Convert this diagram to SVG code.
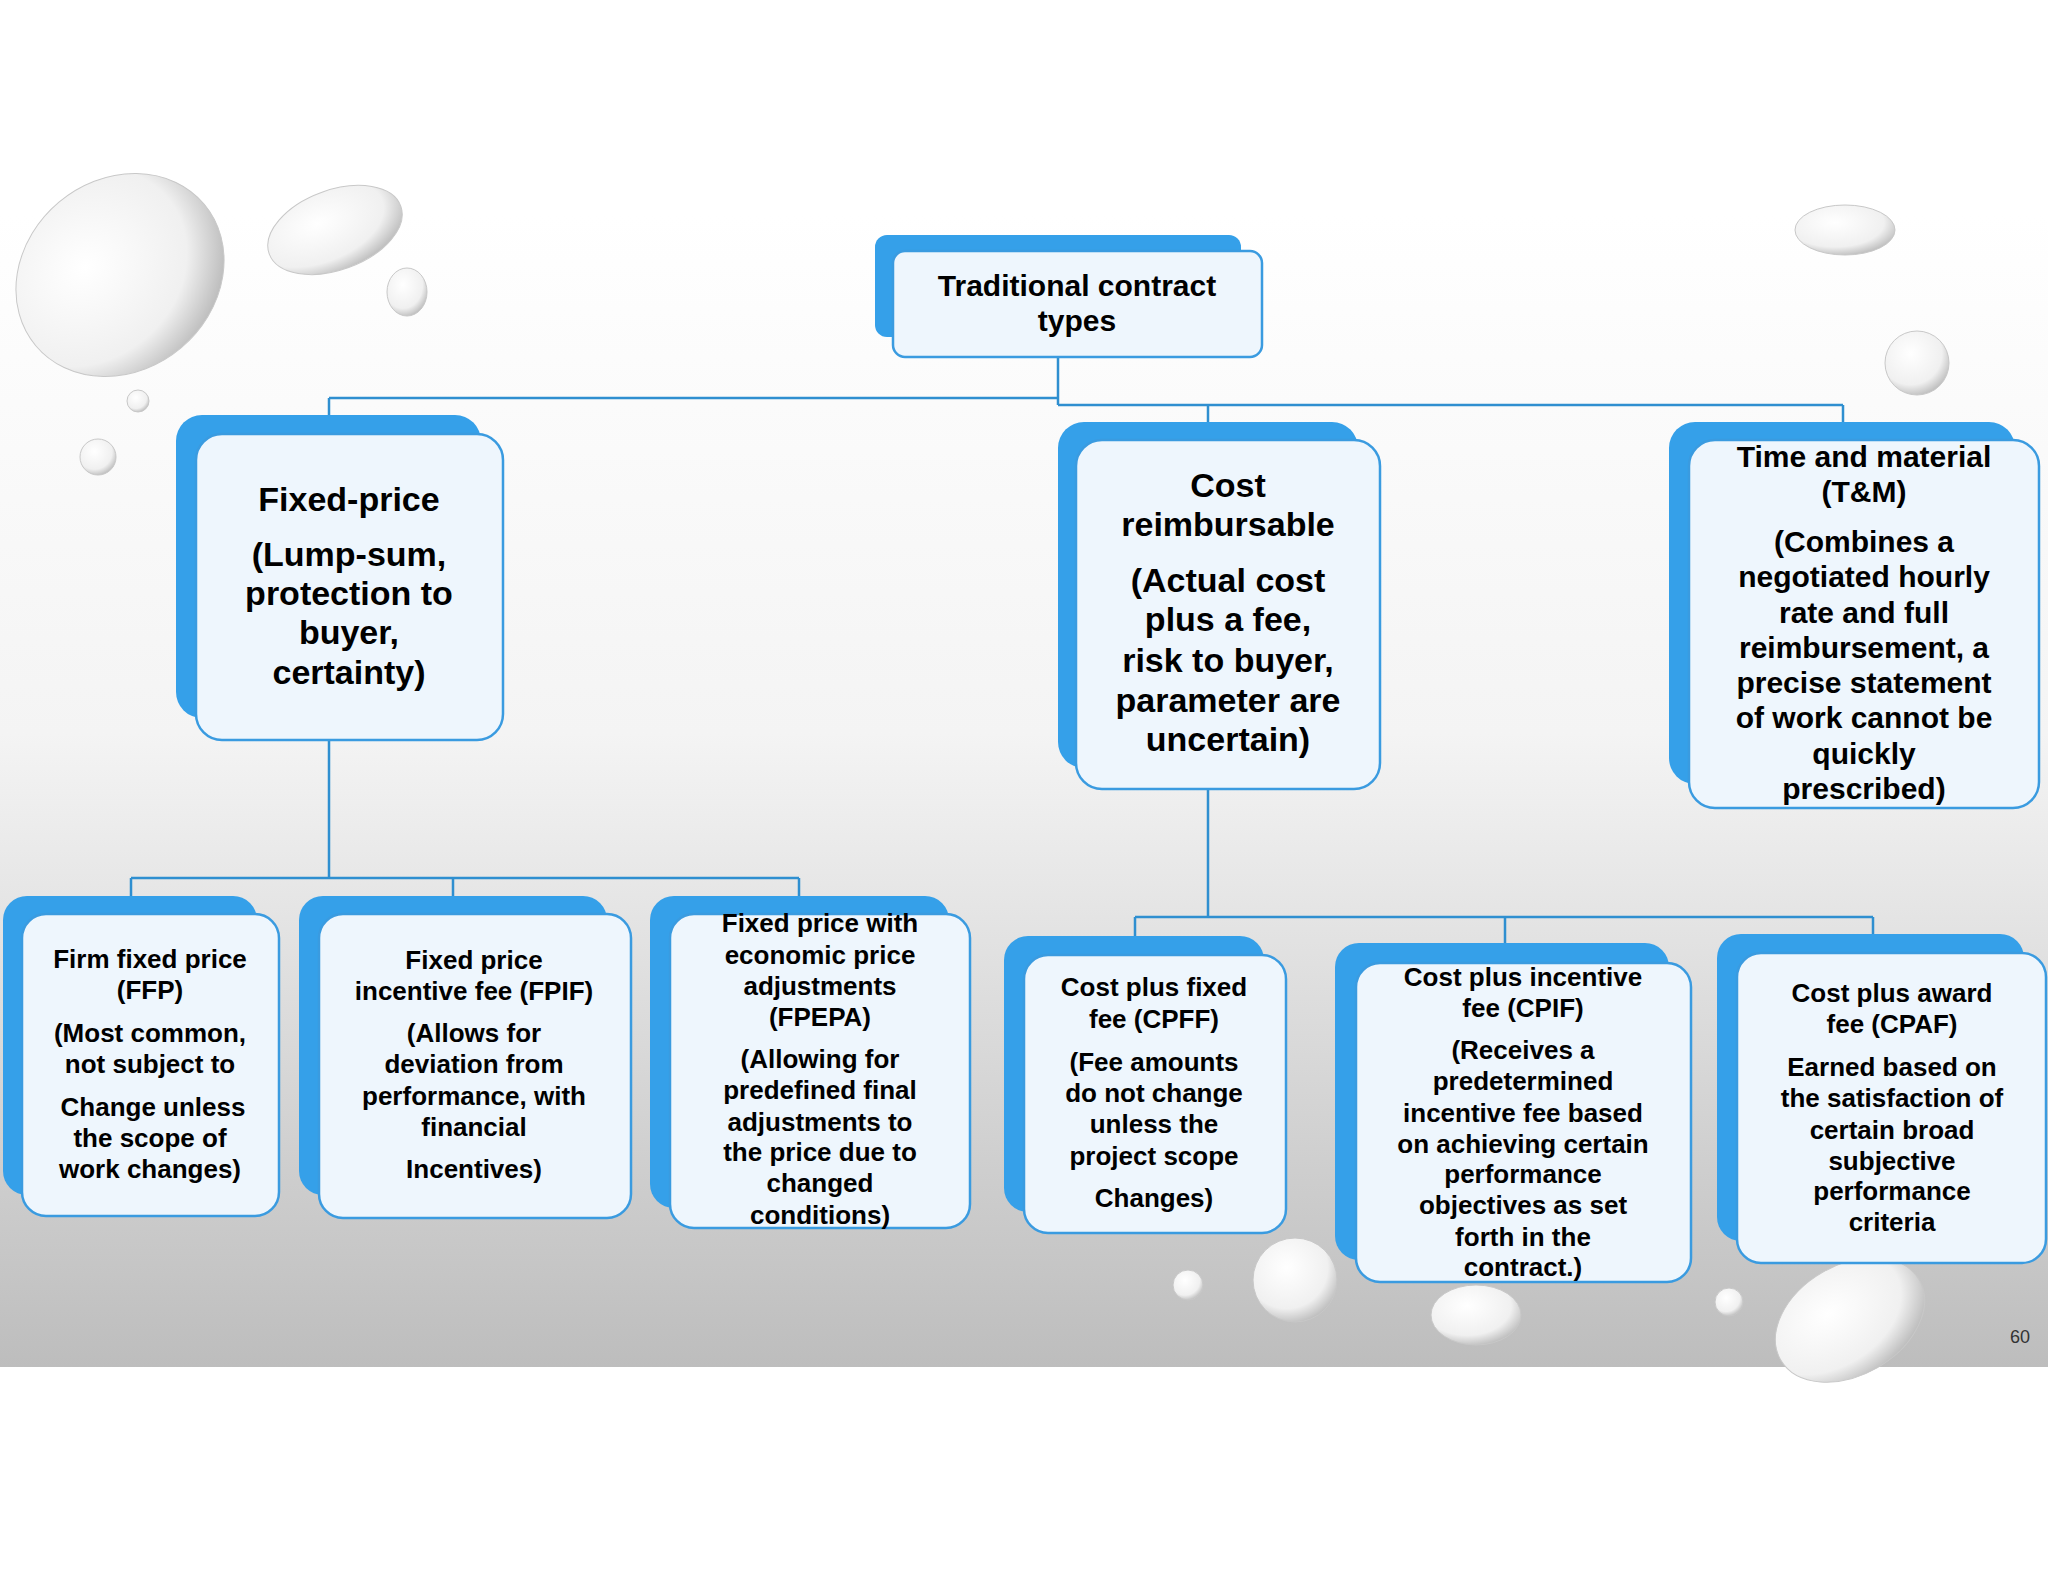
<svg xmlns="http://www.w3.org/2000/svg" width="2048" height="1582" viewBox="0 0 2048 1582">
<defs>
<linearGradient id="bg" x1="0" y1="0" x2="0" y2="1"><stop offset="0" stop-color="#ffffff"/><stop offset="0.45" stop-color="#f4f4f4"/><stop offset="1" stop-color="#bdbdbd"/></linearGradient>
<radialGradient id="drop" cx="0.4" cy="0.35" r="0.7"><stop offset="0" stop-color="#ffffff"/><stop offset="0.7" stop-color="#f0f0f0"/><stop offset="1" stop-color="#b8b8b8"/></radialGradient>
<style>
.back{fill:#35a0e9}
.front{fill:#eef6fd;stroke:#3a9be0;stroke-width:2.5}
.t{font-family:"Liberation Sans",Arial,sans-serif;font-weight:bold;fill:#000;text-anchor:middle}
.conn{fill:none;stroke:#2f8fd0;stroke-width:2.5}
.d{fill:url(#drop);stroke:#c8c8c8;stroke-width:1}
</style>
</defs>
<rect width="2048" height="1582" fill="#fff"/>
<rect x="0" y="215" width="2048" height="1152" fill="url(#bg)"/>
<g id="drops">
<ellipse class="d" cx="120" cy="275" rx="110" ry="95" transform="rotate(-40 120 275)"/>
<ellipse class="d" cx="335" cy="230" rx="70" ry="40" transform="rotate(-20 335 230)"/>
<ellipse class="d" cx="407" cy="292" rx="20" ry="24"/>
<circle class="d" cx="138" cy="401" r="11"/>
<circle class="d" cx="98" cy="457" r="18"/>
<ellipse class="d" cx="1845" cy="230" rx="50" ry="25"/>
<circle class="d" cx="1917" cy="363" r="32"/>
<circle class="d" cx="1295" cy="1280" r="42"/>
<circle class="d" cx="1188" cy="1285" r="15"/>
<ellipse class="d" cx="1476" cy="1315" rx="45" ry="30"/>
<circle class="d" cx="1729" cy="1302" r="14"/>
<ellipse class="d" cx="1850" cy="1320" rx="80" ry="55" transform="rotate(-30 1850 1320)"/>
</g>
<g id="connectors">
<path class="conn" d="M1058 357V405M329 398H1058M329 398V415M1058 405H1843M1208 405V422M1843 405V422"/>
<path class="conn" d="M329 740V878M131 878H799M131 878V896M453 878V896M799 878V896"/>
<path class="conn" d="M1208 789V917M1135 917H1873M1135 917V936M1505 917V943M1873 917V934"/>
</g>
<g id="root"><rect class="back" x="875" y="235" width="366" height="102" rx="12"/><rect class="front" x="893" y="251" width="369" height="106" rx="12"/>
<text class="t" font-size="30" x="1077"><tspan x="1077" y="296">Traditional contract</tspan><tspan x="1077" y="331">types</tspan></text></g>
<g id="fixed"><rect class="back" x="176" y="415" width="305" height="303" rx="26"/><rect class="front" x="196" y="434" width="307" height="306" rx="26"/>
<text class="t" font-size="34" x="349"><tspan x="349" y="511">Fixed-price</tspan><tspan x="349" y="566">(Lump-sum,</tspan><tspan x="349" y="605">protection to</tspan><tspan x="349" y="644">buyer,</tspan><tspan x="349" y="684">certainty)</tspan></text></g>
<g id="cost"><rect class="back" x="1058" y="422" width="300" height="346" rx="26"/><rect class="front" x="1076" y="440" width="304" height="349" rx="26"/>
<text class="t" font-size="34" x="1228"><tspan x="1228" y="497">Cost</tspan><tspan x="1228" y="536">reimbursable</tspan><tspan x="1228" y="592">(Actual cost</tspan><tspan x="1228" y="631">plus a fee,</tspan><tspan x="1228" y="672">risk to buyer,</tspan><tspan x="1228" y="712">parameter are</tspan><tspan x="1228" y="751">uncertain)</tspan></text></g>
<g id="tm"><rect class="back" x="1669" y="422" width="346" height="362" rx="26"/><rect class="front" x="1689" y="440" width="350" height="368" rx="26"/>
<text class="t" font-size="30" x="1864"><tspan x="1864" y="467">Time and material</tspan><tspan x="1864" y="502">(T&amp;M)</tspan><tspan x="1864" y="552">(Combines a</tspan><tspan x="1864" y="587">negotiated hourly</tspan><tspan x="1864" y="623">rate and full</tspan><tspan x="1864" y="658">reimbursement, a</tspan><tspan x="1864" y="693">precise statement</tspan><tspan x="1864" y="728">of work cannot be</tspan><tspan x="1864" y="764">quickly</tspan><tspan x="1864" y="799">prescribed)</tspan></text></g>
<g id="ffp"><rect class="back" x="3" y="896" width="254" height="299" rx="24"/><rect class="front" x="22" y="914" width="257" height="302" rx="24"/>
<text class="t" font-size="26" x="150"><tspan x="150" y="968">Firm fixed price</tspan><tspan x="150" y="999">(FFP)</tspan><tspan x="150" y="1042">(Most common,</tspan><tspan x="150" y="1073">not subject to</tspan><tspan x="153" y="1116">Change unless</tspan><tspan x="150" y="1147">the scope of</tspan><tspan x="150" y="1178">work changes)</tspan></text></g>
<g id="fpif"><rect class="back" x="299" y="896" width="308" height="299" rx="24"/><rect class="front" x="319" y="914" width="312" height="304" rx="24"/>
<text class="t" font-size="26" x="474"><tspan x="474" y="969">Fixed price</tspan><tspan x="474" y="1000">incentive fee (FPIF)</tspan><tspan x="474" y="1042">(Allows for</tspan><tspan x="474" y="1073">deviation from</tspan><tspan x="474" y="1105">performance, with</tspan><tspan x="474" y="1136">financial</tspan><tspan x="474" y="1178">Incentives)</tspan></text></g>
<g id="fpepa"><rect class="back" x="650" y="896" width="299" height="312" rx="24"/><rect class="front" x="670" y="914" width="300" height="314" rx="24"/>
<text class="t" font-size="26" x="820"><tspan x="820" y="932">Fixed price with</tspan><tspan x="820" y="964">economic price</tspan><tspan x="820" y="995">adjustments</tspan><tspan x="820" y="1026">(FPEPA)</tspan><tspan x="820" y="1068">(Allowing for</tspan><tspan x="820" y="1099">predefined final</tspan><tspan x="820" y="1131">adjustments to</tspan><tspan x="820" y="1161">the price due to</tspan><tspan x="820" y="1192">changed</tspan><tspan x="820" y="1224">conditions)</tspan></text></g>
<g id="cpff"><rect class="back" x="1004" y="936" width="260" height="276" rx="24"/><rect class="front" x="1024" y="955" width="262" height="278" rx="24"/>
<text class="t" font-size="26" x="1154"><tspan x="1154" y="996">Cost plus fixed</tspan><tspan x="1154" y="1028">fee (CPFF)</tspan><tspan x="1154" y="1071">(Fee amounts</tspan><tspan x="1154" y="1102">do not change</tspan><tspan x="1154" y="1133">unless the</tspan><tspan x="1154" y="1165">project scope</tspan><tspan x="1154" y="1207">Changes)</tspan></text></g>
<g id="cpif"><rect class="back" x="1335" y="943" width="334" height="317" rx="24"/><rect class="front" x="1356" y="963" width="335" height="319" rx="24"/>
<text class="t" font-size="26" x="1523"><tspan x="1523" y="986">Cost plus incentive</tspan><tspan x="1523" y="1017">fee (CPIF)</tspan><tspan x="1523" y="1059">(Receives a</tspan><tspan x="1523" y="1090">predetermined</tspan><tspan x="1523" y="1122">incentive fee based</tspan><tspan x="1523" y="1153">on achieving certain</tspan><tspan x="1523" y="1183">performance</tspan><tspan x="1523" y="1214">objectives as set</tspan><tspan x="1523" y="1246">forth in the</tspan><tspan x="1523" y="1276">contract.)</tspan></text></g>
<g id="cpaf"><rect class="back" x="1717" y="934" width="307" height="307" rx="24"/><rect class="front" x="1737" y="953" width="309" height="310" rx="24"/>
<text class="t" font-size="26" x="1892"><tspan x="1892" y="1002">Cost plus award</tspan><tspan x="1892" y="1033">fee (CPAF)</tspan><tspan x="1892" y="1076">Earned based on</tspan><tspan x="1892" y="1107">the satisfaction of</tspan><tspan x="1892" y="1139">certain broad</tspan><tspan x="1892" y="1170">subjective</tspan><tspan x="1892" y="1200">performance</tspan><tspan x="1892" y="1231">criteria</tspan></text></g>
<text x="2020" y="1343" font-family="Liberation Sans,Arial,sans-serif" font-size="18" text-anchor="middle" fill="#333">60</text>
</svg>
